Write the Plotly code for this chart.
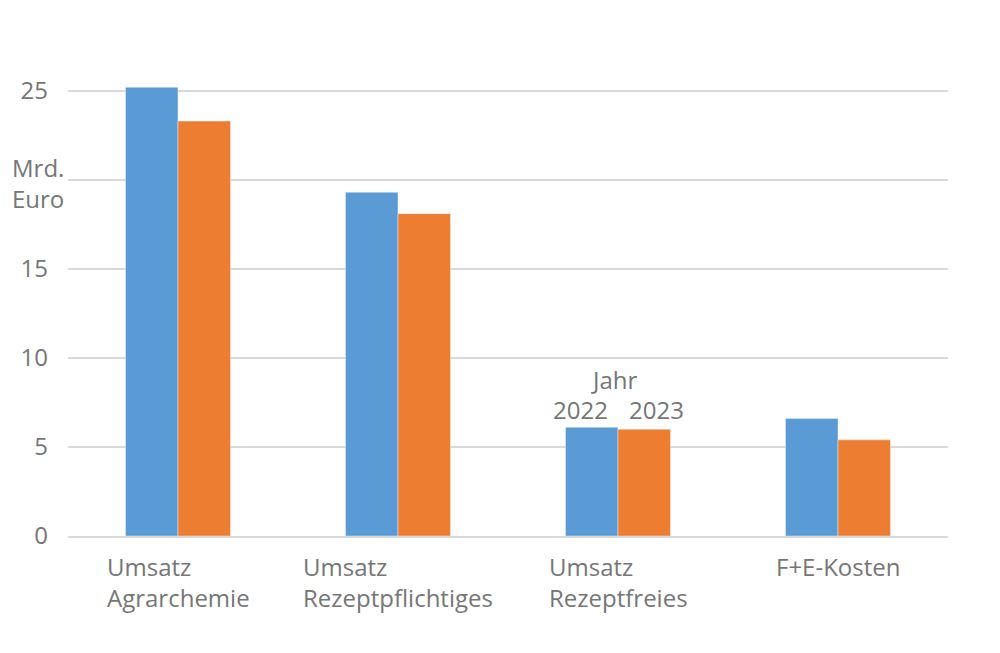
import plotly.graph_objects as go

categories = ['Umsatz<br>Agrarchemie', 'Umsatz<br>Rezeptpflichtiges', 'Umsatz<br>Rezeptfreies', 'F+E-Kosten']
values_2022 = [25.2, 19.3, 6.1, 6.6]
values_2023 = [23.3, 18.1, 6.0, 5.4]
tick_vals = [0, 5, 10, 15, 20, 25]
tick_text = ['0', '5', '10', '15', '', '25']

text_color = '#767676'
font_family = 'Open Sans'
font_size = 24

fig = go.Figure()
fig.add_trace(go.Bar(x=categories, y=values_2022, name='2022', marker_color='#5B9BD5'))
fig.add_trace(go.Bar(x=categories, y=values_2023, name='2023', marker_color='#ED7D31'))

# category labels: left aligned lines, block centred under the group
for cat in categories:
    fig.add_annotation(x=cat, y=0, xref='x', yref='y', text=cat, showarrow=False,
                       align='left', xanchor='center', yanchor='top', yshift=-12,
                       font=dict(size=font_size, color=text_color, family=font_family))

# axis unit in place of the 20 tick
fig.add_annotation(x=-0.066, y=19.8, xref='paper', yref='y', text='Mrd.<br>Euro', showarrow=False,
                   align='left', xanchor='left', yanchor='middle',
                   font=dict(size=font_size, color=text_color, family=font_family))

# legend text inside the chart
fig.add_annotation(x=categories[2], y=8.8, xref='x', yref='y', text='Jahr', showarrow=False,
                   xshift=-4, font=dict(size=font_size, color=text_color, family=font_family))
fig.add_annotation(x=categories[2], y=7.1, xref='x', yref='y', text='2022', showarrow=False,
                   xshift=-38, font=dict(size=font_size, color=text_color, family=font_family))
fig.add_annotation(x=categories[2], y=7.1, xref='x', yref='y', text='2023', showarrow=False,
                   xshift=38, font=dict(size=font_size, color=text_color, family=font_family))

fig.update_layout(
    width=1000, height=653,
    barmode='group', bargap=0.523, bargroupgap=0,
    plot_bgcolor='white', paper_bgcolor='white',
    showlegend=False,
    margin=dict(l=60, r=60, t=65, b=125),
    font=dict(family=font_family, size=font_size, color=text_color),
)
fig.update_xaxes(showticklabels=False, showline=True, linecolor='#D9D9D9', linewidth=1.5,
                 ticks='', showgrid=False)
fig.update_yaxes(range=[0, 26], tickvals=tick_vals, ticktext=tick_text, showgrid=True,
                 gridcolor='#D9D9D9', gridwidth=1.5, zeroline=False, showline=False,
                 ticks='', ticklabelstandoff=19, tickfont=dict(size=font_size, color=text_color))

fig.write_html('out.html')
